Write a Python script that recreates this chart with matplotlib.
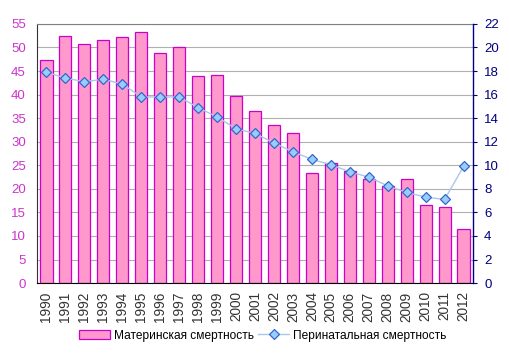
import matplotlib
matplotlib.use("Agg")
import matplotlib.pyplot as plt
import numpy as np

years = [str(y) for y in range(1990, 2013)]
maternal = [47.4, 52.4, 50.8, 51.6, 52.3, 53.3, 48.9, 50.2, 44.0, 44.2, 39.7, 36.5,
            33.6, 31.9, 23.4, 25.4, 23.8, 22.0, 20.7, 22.0, 16.5, 16.2, 11.5]
perinatal = [17.9, 17.4, 17.1, 17.3, 16.9, 15.8, 15.8, 15.8, 14.9, 14.1, 13.1, 12.7,
             11.9, 11.15, 10.5, 10.05, 9.45, 9.0, 8.25, 7.7, 7.3, 7.1, 9.9]

plt.rcParams['font.family'] = ['Liberation Sans', 'DejaVu Sans']

fig = plt.figure(figsize=(5.1, 3.57), dpi=100)
ax = fig.add_axes([0.0725, 0.207, 0.855, 0.726])
x = np.arange(len(years))

bars = ax.bar(x, maternal, width=0.64, color='#FF99CC', edgecolor='#CC00CC',
              linewidth=0.9, zorder=2, label='Материнская смертность')
ax.set_xlim(-0.5, len(years) - 0.5)
ax.set_ylim(0, 55)
ax.set_yticks(range(0, 56, 5))
ax.yaxis.grid(True, color='#B0B0B0', linewidth=0.8, zorder=0)
ax.set_axisbelow(True)
ax.set_xticks(x)
ax.set_xticklabels(years, rotation=90, fontsize=9.8, color='#333333')
ax.tick_params(axis='y', colors='#CC33CC', labelsize=9.5, length=0, pad=8)
ax.tick_params(axis='x', length=0, pad=6)
for lbl in ax.get_yticklabels():
    lbl.set_color('#CC33CC')
ax.spines['top'].set_color('#808080')
ax.spines['left'].set_color('#333333')
ax.spines['bottom'].set_color('black')
ax.spines['right'].set_visible(False)

ax2 = ax.twinx()
line, = ax2.plot(x, perinatal, color='#A8C8E8', linewidth=1.0, marker='D',
                 markersize=5.5, markerfacecolor='#99CCFF', markeredgecolor='#3366CC',
                 markeredgewidth=0.9, zorder=3, label='Перинатальная смертность')
ax2.set_ylim(0, 22)
ax2.set_yticks(range(0, 23, 2))
ax2.tick_params(axis='y', colors='#000080', labelsize=9.5, length=3, direction='out', pad=5)
ax2.spines['right'].set_color('#000080')
ax2.spines['right'].set_linewidth(1.0)
ax2.spines['top'].set_visible(False)
ax2.spines['left'].set_visible(False)
ax2.spines['bottom'].set_visible(False)

fig.legend([bars, line], ['Материнская смертность', 'Перинатальная смертность'],
           loc='center', bbox_to_anchor=(0.515, 0.06), ncol=2, frameon=False,
           fontsize=8.6, handlelength=2.6, columnspacing=0.4, handletextpad=0.3)

fig.savefig('out.png', dpi=100)
